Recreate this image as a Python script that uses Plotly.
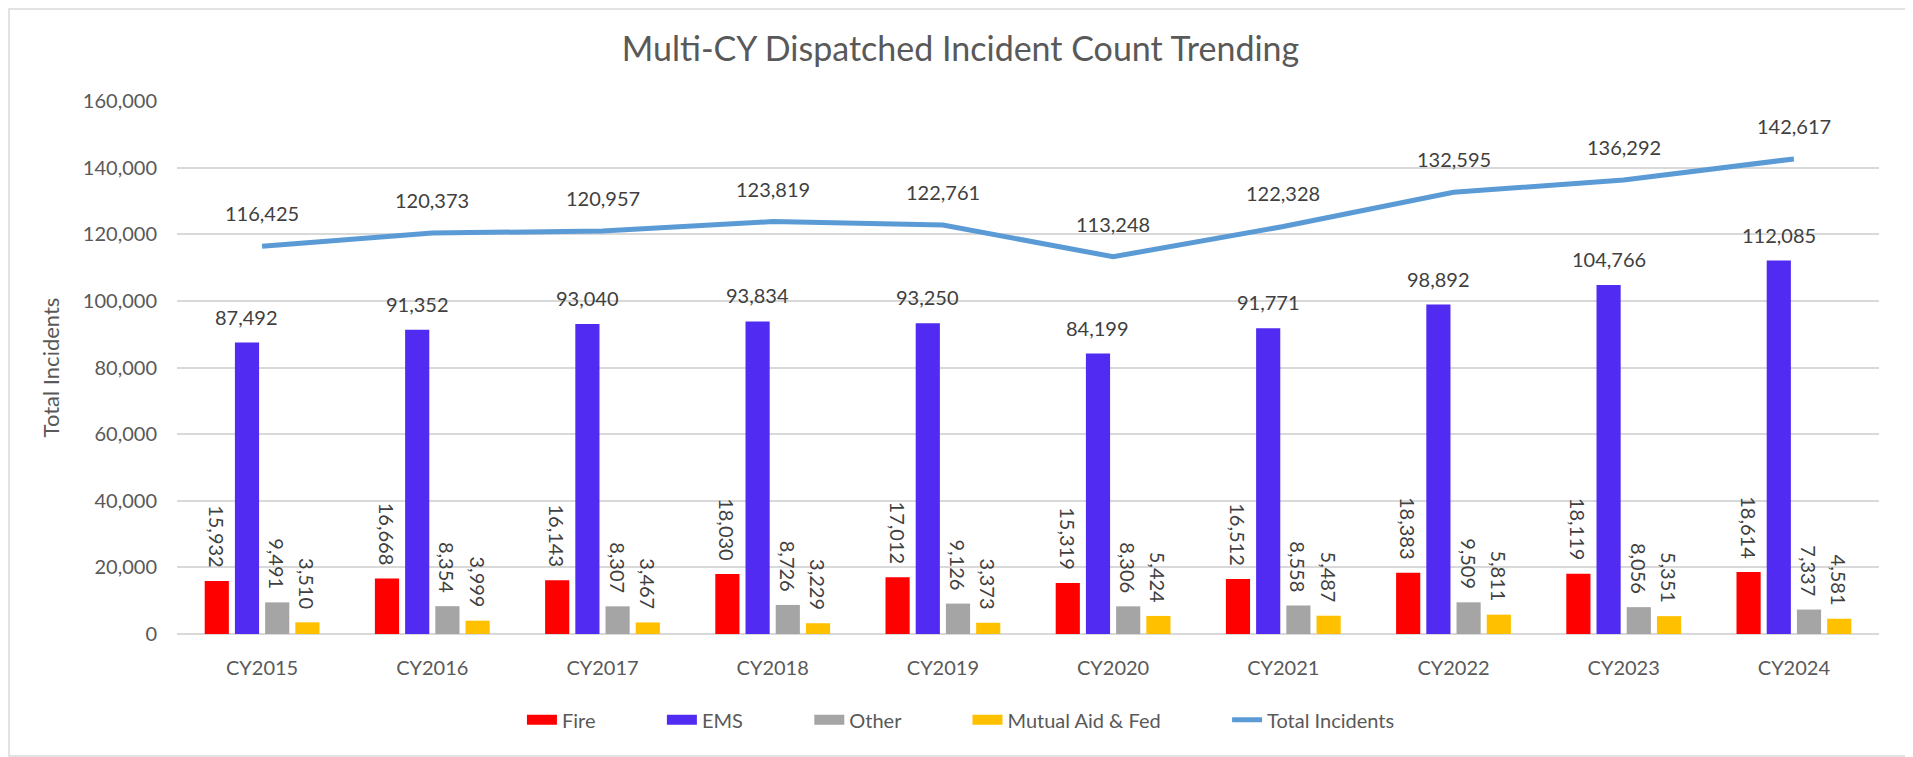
import plotly.graph_objects as go

# ── Data ─────────────────────────────────────────────
years = ["CY2015", "CY2016", "CY2017", "CY2018", "CY2019",
         "CY2020", "CY2021", "CY2022", "CY2023", "CY2024"]
fire = [15932, 16668, 16143, 18030, 17012, 15319, 16512, 18383, 18119, 18614]
ems = [87492, 91352, 93040, 93834, 93250, 84199, 91771, 98892, 104766, 112085]
other = [9491, 8354, 8307, 8726, 9126, 8306, 8558, 9509, 8056, 7337]
mutual_aid = [3510, 3999, 3467, 3229, 3373, 5424, 5487, 5811, 5351, 4581]
total = [116425, 120373, 120957, 123819, 122761, 113248, 122328, 132595, 136292, 142617]

FONT = "Lato"
TXT = "#404040"
AXIS_TXT = "#595959"
NB = "\u00a0"
PAD = NB * 2          # lifts the rotated labels off the bar top
LEG_GAP = NB * 12     # wider spacing between legend entries

BARGAP = 0.29
GROUPGAP = 0.2

fig = go.Figure()

# ── Bars ──────────────────────────────────────────────
bar_series = [
    ("Fire", fire, "#FF0000", True),
    ("EMS", ems, "#512BF2", False),
    ("Other", other, "#A5A5A5", True),
    ("Mutual Aid & Fed", mutual_aid, "#FFC000", True),
]
for name, vals, color, rotated in bar_series:
    fig.add_trace(go.Bar(
        x=years, y=vals, name=name,
        marker=dict(color=color, line=dict(width=0)),
        text=[f"{v:,}{PAD}" for v in vals] if rotated else None,
        textposition="outside" if rotated else "none",
        textangle=90,
        constraintext="none",
        cliponaxis=False,
        textfont=dict(family=FONT, size=20, color=TXT),
        showlegend=False,
    ))
    # wide legend swatch, like the original
    fig.add_trace(go.Scatter(
        x=[None], y=[None], mode="lines", name=name + LEG_GAP,
        line=dict(color=color, width=14),
    ))

# EMS labels sit a bit higher above the bar than plotly's outside text
slot = (1 - BARGAP) / 4
ems_off = -(1 - BARGAP) / 2 + 1.5 * slot
for i, v in enumerate(ems):
    fig.add_annotation(x=i + ems_off, y=v, text=f"{v:,}", showarrow=False,
                       yanchor="middle", yshift=26,
                       font=dict(family=FONT, size=20, color=TXT))

# ── Total line ────────────────────────────────────────
fig.add_trace(go.Scatter(
    x=years, y=total, name="Total Incidents",
    mode="lines",
    line=dict(color="#5B9BD5", width=5),
    cliponaxis=False,
))
for yr, v in zip(years, total):
    fig.add_annotation(x=yr, y=v, text=f"{v:,}", showarrow=False,
                       yanchor="middle", yshift=33,
                       font=dict(family=FONT, size=20, color=TXT))

# ── Style ─────────────────────────────────────────────
# page body has an 8px margin, so the figure is 8px smaller than the window
fig.update_layout(
    width=1905, height=749,
    paper_bgcolor="white",
    plot_bgcolor="white",
    font=dict(family=FONT, size=20, color=AXIS_TXT),
    title=dict(text="Multi-CY Dispatched Incident Count Trending",
               x=0.5, xanchor="center", y=0.945, yanchor="middle",
               font=dict(size=34, color=AXIS_TXT)),
    barmode="group",
    bargap=BARGAP,
    bargroupgap=GROUPGAP,
    margin=dict(l=169, r=34, t=93, b=123, autoexpand=False),
    legend=dict(orientation="h", x=0.4606, xanchor="center",
                y=-0.161, yanchor="middle",
                font=dict(size=20, color=AXIS_TXT), traceorder="normal"),
    shapes=[dict(type="rect", xref="paper", yref="paper",
                 x0=-0.0987, x1=1.0194, y0=-0.2289, y1=1.1726,
                 line=dict(color="#D9D9D9", width=1.5), layer="below")],
)
fig.update_yaxes(
    range=[0, 160000], dtick=20000, tickformat=",",
    showgrid=True, gridcolor="#D9D9D9", gridwidth=2,
    zeroline=True, zerolinecolor="#D9D9D9", zerolinewidth=2,
    title=dict(text="Total Incidents", font=dict(size=22, color=AXIS_TXT), standoff=17),
    ticks="", ticklabelstandoff=19,
)
fig.update_xaxes(showline=False, ticks="", ticklabelstandoff=20, tickangle=0,
                 tickfont=dict(size=20, color=AXIS_TXT))

fig.write_html("out.html")
